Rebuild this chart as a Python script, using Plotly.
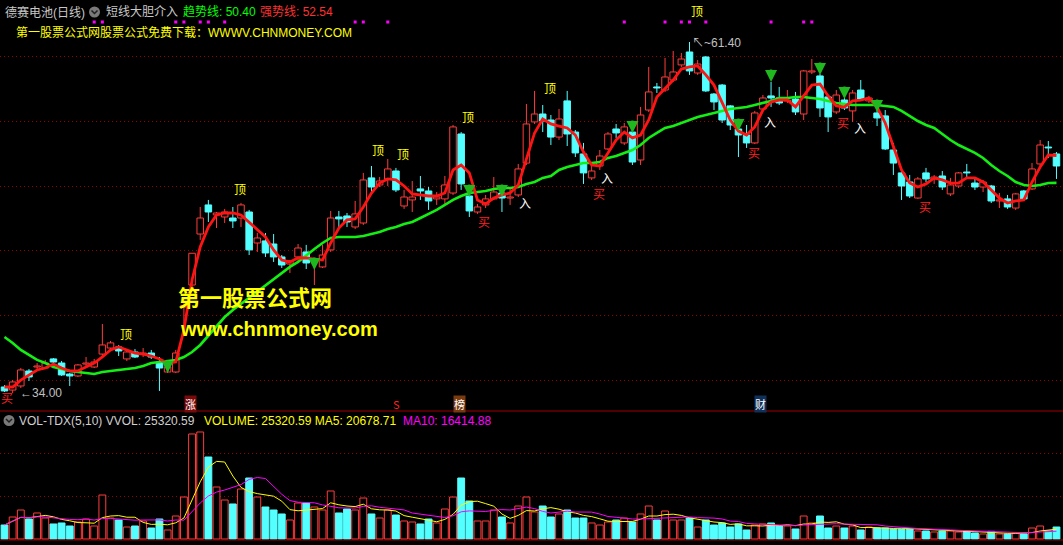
import plotly.graph_objects as go
import pandas as pd

# ---------------- data ----------------
opens = [34.47, 34.23, 34.55, 35.72, 36.03, 35.95, 36.66, 36.34, 35.48, 35.33,
         36.26, 36.03, 37.04, 37.51, 37.59, 36.66, 37.20, 37.04, 37.12, 36.42,
         35.64, 35.64, 40.71, 42.43, 46.41, 48.68, 47.90, 47.74, 47.66, 47.66,
         48.13, 45.71, 45.87, 45.63, 44.62, 44.07, 44.62, 45.01, 44.23, 43.84,
         45.17, 47.74, 47.82, 46.96, 47.27, 50.79, 50.24, 50.71, 51.33, 48.60,
         49.07, 49.93, 49.77, 49.15, 49.15, 49.61, 54.22, 49.38, 48.13, 48.68,
         49.15, 49.61, 49.22, 49.46, 51.95, 55.16, 55.78, 55.31, 53.98, 56.80,
         54.37, 52.66, 50.79, 51.72, 53.05, 54.61, 53.52, 54.37, 52.19, 56.09,
         57.89, 57.65, 58.43, 59.61, 60.62, 58.98, 60.23, 57.34, 58.04, 56.41,
         54.61, 54.14, 53.52, 56.17, 57.19, 57.03, 56.80, 56.95, 55.78, 59.06,
         58.75, 57.11, 55.94, 56.87, 56.02, 57.65, 56.80, 55.86, 55.63, 52.97,
         51.18, 50.47, 49.22, 51.18, 50.71, 50.94, 49.54, 50.16, 51.25, 50.39,
         50.08, 50.16, 48.99, 49.15, 48.44, 49.77, 49.93, 51.88, 53.20, 52.66]
highs = [34.62, 35.01, 35.95, 35.87, 36.34, 36.58, 36.73, 36.50, 35.56, 36.26,
         36.81, 36.66, 39.39, 38.06, 37.75, 37.36, 37.43, 37.51, 37.36, 36.81,
         36.19, 37.36, 41.00, 44.91, 48.52, 49.07, 48.13, 48.37, 48.52, 48.83,
         48.29, 46.49, 46.49, 46.41, 44.77, 44.38, 45.63, 45.56, 44.54, 45.56,
         48.21, 48.21, 48.05, 48.99, 51.18, 51.72, 50.86, 52.27, 51.57, 49.85,
         50.55, 50.94, 50.08, 49.69, 50.94, 54.92, 54.37, 49.85, 48.76, 49.46,
         50.86, 49.93, 50.00, 51.88, 56.56, 57.58, 56.48, 55.70, 56.17, 57.58,
         54.53, 53.52, 51.95, 52.97, 54.37, 55.00, 55.08, 54.53, 56.33, 59.45,
         58.20, 60.15, 60.70, 60.54, 61.40, 59.99, 60.31, 57.42, 58.12, 56.48,
         55.31, 54.92, 56.02, 57.26, 58.28, 57.89, 57.65, 57.50, 59.22, 60.07,
         58.90, 57.26, 57.65, 57.03, 57.65, 58.43, 57.19, 56.09, 56.09, 53.52,
         51.33, 51.02, 50.86, 51.57, 51.02, 51.33, 50.79, 51.25, 51.88, 50.86,
         50.63, 50.24, 49.61, 49.46, 49.61, 49.85, 51.95, 53.75, 53.67, 52.81]
lows = [34.08, 34.00, 34.39, 34.94, 35.72, 35.87, 36.26, 35.33, 34.55, 35.25,
        36.03, 35.95, 36.89, 37.43, 36.89, 36.50, 36.73, 36.81, 36.66, 34.16,
        35.56, 35.56, 39.15, 42.27, 45.95, 47.35, 46.88, 47.27, 46.88, 46.96,
        44.77, 45.01, 44.62, 44.23, 43.76, 43.37, 44.23, 43.68, 42.43, 43.76,
        45.01, 46.96, 46.96, 46.80, 47.12, 49.61, 50.08, 50.16, 49.69, 48.37,
        48.13, 49.07, 48.29, 48.68, 48.68, 49.46, 49.85, 47.74, 47.98, 48.44,
        49.07, 48.13, 48.68, 49.30, 51.80, 55.00, 54.37, 53.36, 53.75, 53.28,
        52.42, 50.32, 50.63, 51.41, 52.97, 53.91, 53.36, 51.80, 51.80, 55.94,
        57.42, 57.50, 58.28, 59.45, 58.83, 58.83, 57.50, 56.09, 55.08, 54.53,
        52.42, 53.13, 53.44, 56.09, 56.33, 56.48, 56.64, 55.70, 55.31, 58.90,
        55.55, 54.37, 55.78, 56.09, 55.16, 56.80, 56.64, 54.84, 52.97, 51.02,
        49.07, 49.22, 49.15, 50.47, 50.32, 49.85, 49.38, 50.00, 50.86, 49.85,
        49.69, 48.83, 48.44, 48.37, 48.29, 48.99, 49.85, 51.72, 52.35, 50.71]
closes = [34.16, 34.86, 35.80, 35.25, 36.11, 36.34, 36.42, 35.41, 35.33, 36.19,
          36.34, 36.42, 37.75, 37.91, 37.28, 37.20, 36.81, 37.12, 36.81, 35.95,
          36.03, 37.12, 40.83, 44.91, 47.66, 48.13, 48.05, 48.13, 47.43, 48.68,
          45.17, 46.10, 44.93, 44.62, 43.99, 44.31, 45.32, 44.15, 44.38, 44.77,
          47.66, 47.59, 47.35, 47.98, 50.63, 50.08, 50.55, 51.49, 49.85, 49.30,
          49.30, 49.77, 48.99, 49.30, 50.24, 54.77, 50.32, 48.21, 48.52, 49.15,
          49.69, 49.22, 49.30, 51.49, 55.00, 55.78, 55.23, 53.98, 55.39, 54.22,
          52.74, 51.18, 51.33, 52.50, 54.22, 54.30, 54.77, 52.03, 55.70, 57.50,
          57.81, 58.67, 59.06, 60.07, 59.14, 59.68, 57.58, 56.72, 55.31, 54.92,
          54.14, 53.52, 55.86, 57.03, 57.03, 56.64, 56.87, 55.94, 59.14, 59.14,
          56.25, 55.55, 57.26, 56.25, 57.42, 56.95, 57.03, 55.47, 53.05, 51.95,
          50.16, 49.38, 50.71, 50.71, 50.86, 50.08, 50.24, 51.18, 51.18, 50.08,
          50.47, 48.99, 49.07, 48.52, 49.54, 49.15, 51.49, 53.36, 53.13, 51.72]
volumes = [29500, 46400, 61200, 42200, 54900, 44300, 31700, 33800, 27400, 35900,
           42200, 27400, 92800, 44300, 40100, 25300, 27400, 38000, 23200, 42200,
           19000, 48500, 88600, 221600, 225800, 173000, 109700, 82300, 73900, 105500,
           128700, 88600, 67500, 61200, 52800, 40100, 76000, 76000, 67500, 61200,
           101300, 54900, 63300, 61200, 86500, 52800, 44300, 61200, 50600, 38000,
           35900, 31700, 42200, 33800, 63300, 88600, 128700, 80200, 38000, 38000,
           61200, 46400, 33800, 69600, 88600, 57000, 69600, 46400, 52800, 61200,
           44300, 44300, 33800, 29500, 35900, 40100, 44300, 35900, 52800, 69600,
           40100, 59100, 40100, 40100, 44300, 25300, 40100, 29500, 33800, 25300,
           31700, 19000, 29500, 31700, 33800, 27400, 27400, 21100, 48500, 33800,
           48500, 23200, 27400, 23200, 27400, 19000, 25300, 23200, 23200, 21100,
           21100, 21100, 16900, 16900, 14800, 16900, 16900, 14800, 16900, 12700,
           10600, 16200, 10600, 10600, 12700, 10600, 23200, 27400, 16900, 25320.59]
# 趋势线 (green)
trend_line = [38.37, 37.91, 37.36, 36.97, 36.58, 36.34, 36.03, 35.87, 35.72, 35.64,
              35.56, 35.48, 35.64, 35.72, 35.80, 35.87, 35.95, 36.11, 36.34, 36.42,
              36.48, 36.58, 36.81, 37.20, 37.75, 38.45, 39.15, 39.93, 40.48, 40.95,
              41.42, 41.89, 42.43, 42.90, 43.37, 43.84, 44.23, 44.77, 45.24, 45.71,
              46.10, 46.18, 46.18, 46.18, 46.26, 46.41, 46.57, 46.80, 46.96, 47.19,
              47.35, 47.66, 47.98, 48.29, 48.68, 49.07, 49.38, 49.61, 49.69, 49.77,
              49.93, 50.00, 50.00, 50.08, 50.32, 50.47, 50.79, 50.94, 51.41, 51.64,
              51.80, 51.95, 51.95, 52.03, 52.35, 52.50, 52.74, 52.97, 53.36, 53.91,
              54.30, 54.69, 54.84, 55.08, 55.31, 55.55, 55.70, 55.86, 56.02, 56.17,
              56.25, 56.33, 56.48, 56.64, 56.80, 57.03, 57.03, 57.11, 57.11, 57.03,
              56.95, 56.80, 56.64, 56.56, 56.48, 56.48, 56.48, 56.48, 56.41, 56.33,
              56.02, 55.63, 55.23, 54.92, 54.69, 54.22, 53.75, 53.36, 53.05, 52.74,
              52.35, 51.80, 51.33, 50.94, 50.47, 50.24, 50.16, 50.24, 50.39, 50.40]
# 强势线 (red)
strong_line = [34.47, 34.47, 35.01, 35.41, 35.80, 35.95, 36.26, 35.95, 35.72, 35.72,
               36.03, 36.34, 36.81, 37.36, 37.59, 37.36, 37.12, 37.04, 36.89, 36.66,
               36.34, 36.42, 38.92, 42.82, 45.40, 46.96, 47.90, 48.05, 48.05, 47.90,
               47.35, 46.73, 46.18, 45.17, 44.38, 44.23, 44.54, 44.54, 44.46, 44.38,
               45.71, 46.88, 47.51, 47.59, 48.52, 49.61, 50.39, 50.71, 50.63, 50.16,
               49.54, 49.46, 49.38, 49.38, 49.61, 51.41, 51.80, 51.18, 49.07, 48.76,
               49.22, 49.46, 49.61, 50.24, 52.19, 54.30, 55.39, 55.00, 54.84, 54.69,
               54.14, 52.81, 51.80, 51.72, 52.74, 53.75, 54.37, 53.91, 54.14, 55.31,
               57.11, 57.81, 58.43, 59.29, 59.45, 59.53, 58.83, 58.04, 56.72, 55.31,
               54.45, 54.14, 54.77, 56.09, 56.72, 56.87, 56.87, 56.33, 57.19, 58.04,
               58.12, 57.19, 56.41, 56.33, 56.80, 56.87, 57.03, 56.33, 55.08, 53.20,
               51.41, 50.39, 50.08, 50.32, 50.79, 50.63, 50.39, 50.39, 50.79, 50.79,
               50.47, 49.85, 49.22, 48.83, 48.99, 49.07, 50.47, 51.64, 52.58, 52.54]

top_idx = [14, 28, 45, 48, 56, 66, 84]                 # "顶"
top_price = [37.91, 49.22, 52.27, 51.95, 54.84, 57.11, 63.10]
buy_idx = [0, 58, 72, 91, 102, 112]                    # "买"
buy_price = [34.39, 48.13, 50.32, 53.52, 55.86, 49.30]
enter_idx = [63, 73, 93, 104]                          # "入"
enter_price = [49.61, 51.57, 55.94, 55.47]
arrow_idx = [20, 38, 57, 61, 77, 90, 94, 100, 103, 107]
arrow_price = [35.56, 43.60, 49.30, 49.30, 54.30, 54.45, 58.28, 58.83, 56.95, 55.94]
dot_idx = [11, 12, 21, 22, 24, 25, 27, 43, 44, 47, 76, 81, 83, 84, 86, 94, 98, 99]
dot_price = 62.96
grid_prices = [35.01, 40.06, 45.10, 50.14, 55.19, 60.23]
vol_grid = [90000, 180000]
low_label, high_label = 34.00, 61.40
trend_last, strong_last = "50.40", "52.54"
vol_texts = ("VOL-TDX(5,10) VVOL: 25320.59", "VOLUME: 25320.59 MA5: 20678.71", "MA10: 16414.88")

# ---------------- figure ----------------
W, H = 1063, 545
def px(x): return x / W
def py(y): return 1 - y / H

RED = '#ff3c3c'
CYAN = '#54ffff'
LRED = '#ff1414'
LGREEN = '#14ee14'
CJK = "Noto Sans CJK SC"
LAT = "Liberation Sans, Noto Sans CJK SC"

N = len(closes)
xs = list(range(N))
up = [c > o for o, c in zip(opens, closes)]
fill = ['#000000' if u else CYAN for u in up]
edge = [RED if u else CYAN for u in up]

base, height = [], []
for o, c in zip(opens, closes):
    lo, hi = min(o, c), max(o, c)
    h = hi - lo
    if h < 0.07:
        lo -= (0.07 - h) / 2
        h = 0.07
    base.append(lo)
    height.append(h)

wx = {True: [], False: []}
wy = {True: [], False: []}
for i in xs:
    o, hgh, l, c = opens[i], highs[i], lows[i], closes[i]
    t, b = max(o, c), min(o, c)
    u = up[i]
    if hgh > t:
        wx[u] += [i, i, None]; wy[u] += [hgh, t, None]
    if l < b:
        wx[u] += [i, i, None]; wy[u] += [b, l, None]

fig = go.Figure()
for u, col in ((True, RED), (False, CYAN)):
    fig.add_trace(go.Scatter(x=wx[u], y=wy[u], mode='lines', line=dict(color=col, width=1),
                             hoverinfo='skip', showlegend=False))
fig.add_trace(go.Bar(x=xs, y=height, base=base, width=0.8,
                     marker=dict(color=fill, line=dict(color=edge, width=1)),
                     showlegend=False, hoverinfo='skip'))
fig.add_trace(go.Scatter(x=xs, y=trend_line, mode='lines', line=dict(color=LGREEN, width=2.6),
                         showlegend=False, hoverinfo='skip'))
fig.add_trace(go.Scatter(x=xs, y=strong_line, mode='lines', line=dict(color=LRED, width=2.8),
                         showlegend=False, hoverinfo='skip'))
fig.add_trace(go.Scatter(x=dot_idx, y=[dot_price] * len(dot_idx), mode='markers',
                         marker=dict(symbol='square', size=3, color='#ff00ff'),
                         showlegend=False, hoverinfo='skip'))

# volume
vol_fill = ['#000000' if u else CYAN for u in up]
fig.add_trace(go.Bar(x=xs, y=volumes, width=0.84, xaxis='x2', yaxis='y2',
                     marker=dict(color=vol_fill, line=dict(color=edge, width=1)),
                     showlegend=False, hoverinfo='skip'))
vs = pd.Series(volumes)
ma5 = vs.rolling(5, min_periods=1).mean()
ma10 = vs.rolling(10, min_periods=1).mean()
fig.add_trace(go.Scatter(x=xs, y=ma5, mode='lines', line=dict(color='#ffff00', width=1),
                         xaxis='x2', yaxis='y2', showlegend=False, hoverinfo='skip'))
fig.add_trace(go.Scatter(x=xs, y=ma10, mode='lines', line=dict(color='#ff00ff', width=1),
                         xaxis='x2', yaxis='y2', showlegend=False, hoverinfo='skip'))

ann = []
for i, p in zip(top_idx, top_price):
    ann.append(dict(x=i, y=p, xref='x', yref='y', text='顶', showarrow=False, xanchor='left',
                    yanchor='bottom', font=dict(family=CJK, size=12, color='#ffff00'), borderpad=0))
for i, p in zip(buy_idx, buy_price):
    ann.append(dict(x=i - 0.55 if i == 0 else i, y=p, xref='x', yref='y', text='买', showarrow=False,
                    xanchor='left', yanchor='top', font=dict(family=CJK, size=12, color='#ff2020'),
                    borderpad=0))
for i, p in zip(enter_idx, enter_price):
    ann.append(dict(x=i, y=p, xref='x', yref='y', text='入', showarrow=False, xanchor='left',
                    yanchor='top', font=dict(family=CJK, size=12, color='#ffffff'), borderpad=0))
for i, p in zip(arrow_idx, arrow_price):
    ann.append(dict(x=i, y=p, xref='x', yref='y', text='', showarrow=True, ax=0, ay=-14,
                    arrowhead=2, arrowsize=1.0, arrowwidth=2.4, arrowcolor='#1fb81f'))
ann.append(dict(x=1.6, y=low_label, xref='x', yref='y', text='←%.2f' % low_label, showarrow=False,
                xanchor='left', yanchor='middle', font=dict(family=LAT, size=12, color='#c0c0c0')))
ann.append(dict(x=84, y=high_label - 0.1, xref='x', yref='y', text='↖~%.2f' % high_label, showarrow=False,
                xanchor='left', yanchor='middle', font=dict(family=LAT, size=12, color='#c0c0c0')))

def ptext(x, y, text, color, size=12, family=LAT, **kw):
    d = dict(x=px(x), y=py(y), xref='paper', yref='paper', text=text, showarrow=False,
             xanchor='left', yanchor='middle', font=dict(family=family, size=size, color=color))
    d.update(kw)
    ann.append(d)

ptext(3, 12, '德赛电池(日线)', '#c8c8c8')
ptext(104, 12, '短线大胆介入', '#c8c8c8')
ptext(181, 12, '趋势线: ' + trend_last, '#00ff00')
ptext(258, 12, '强势线: ' + strong_last, '#ff3030')
ptext(14, 33, '第一股票公式网股票公式免费下载：WWWV.CHNMONEY.COM', '#ffff00')
ptext(176, 296, '<b>第一股票公式网</b>', '#ffff00', size=22, family=CJK)
ptext(178, 329, '<b>www.chnmoney.com</b>', '#ffff00', size=20)
ptext(17, 420.5, vol_texts[0], '#d0d0d0')
ptext(202, 420.5, vol_texts[1], '#ffff00')
ptext(401, 420.5, vol_texts[2], '#ff00ff')
# info-mine markers
for x0, t, bg, fc in ((184, '涨', '#7a0a0a', '#ffffff'), (392, 'S', None, '#ff2020'),
                      (453, '榜', '#7a3a10', '#ffffff'), (754, '财', '#10305a', '#ffffff')):
    d = dict(x=px(x0), y=py(404), xref='paper', yref='paper', text=t, showarrow=False,
             xanchor='left', yanchor='middle', font=dict(family=CJK, size=11, color=fc), borderpad=0)
    if bg:
        d['bgcolor'] = bg
    ann.append(d)

shapes = []
for y0 in (411, 540):
    shapes.append(dict(type='line', xref='paper', yref='paper', x0=0, x1=1, y0=py(y0), y1=py(y0),
                       line=dict(color='#a00000', width=1)))
for cx, cy in ((94.5, 12), (9, 420.5)):
    shapes.append(dict(type='circle', xref='paper', yref='paper', x0=px(cx - 5.5), x1=px(cx + 5.5),
                       y0=py(cy + 5.5), y1=py(cy - 5.5), fillcolor='#7a7a7a', line=dict(width=0)))
    path = 'M %f %f L %f %f L %f %f' % (px(cx - 3), py(cy - 1.5), px(cx), py(cy + 1.5), px(cx + 3), py(cy - 1.5))
    shapes.append(dict(type='path', xref='paper', yref='paper', path=path,
                       line=dict(color='#202020', width=1.5)))

xr = [-0.552, 129.80]
fig.update_layout(
    width=W, height=H, margin=dict(l=0, r=0, t=0, b=0),
    paper_bgcolor='#000000', plot_bgcolor='#000000', barmode='overlay',
    showlegend=False, annotations=ann, shapes=shapes,
    xaxis=dict(domain=[0, 1], range=xr, visible=False, anchor='y'),
    xaxis2=dict(domain=[0, 1], range=xr, visible=False, anchor='y2', matches='x'),
    yaxis=dict(domain=[134 / 545, 1], range=[32.595, 64.678], tickvals=grid_prices,
               showticklabels=False, ticks='', showgrid=True, gridcolor='#9a0000', gridwidth=1,
               griddash='1px,3px', zeroline=False, showline=False),
    yaxis2=dict(domain=[5 / 545, 134 / 545], range=[-2110, 270080], tickvals=vol_grid,
                showticklabels=False, ticks='', showgrid=True, gridcolor='#9a0000', gridwidth=1,
                griddash='1px,3px', zeroline=False, showline=False),
)
fig.write_html("out.html", config={'displayModeBar': False},
               post_script="document.body.style.margin='0';document.body.style.background='#000';")
